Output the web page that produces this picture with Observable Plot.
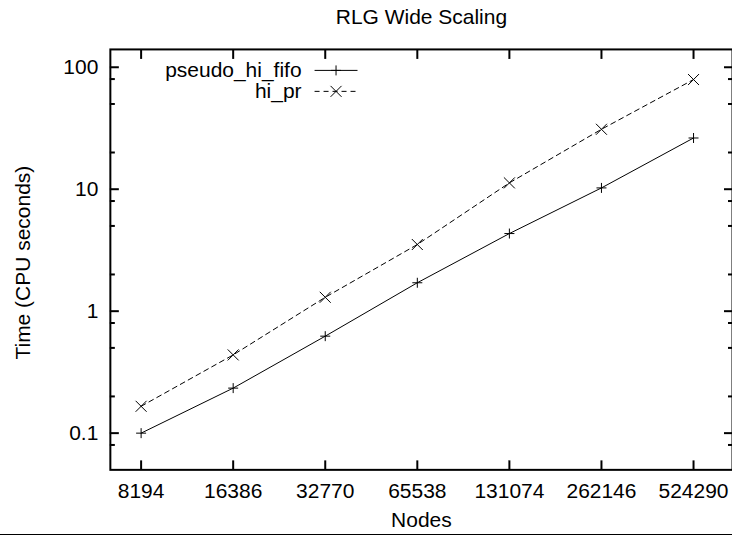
<!DOCTYPE html>
<html><head><meta charset="utf-8">
<script src="https://cdn.jsdelivr.net/npm/d3@7"></script>
<script src="https://cdn.jsdelivr.net/npm/@observablehq/plot@0.6"></script>
<style>
html,body{margin:0;padding:0;background:#fff;overflow:hidden;width:732px;height:536px;}
#chart{position:relative;width:732px;height:536px;overflow:hidden;}
#chart svg{position:absolute;left:0;top:0;overflow:hidden;}
#rule{position:absolute;left:0;top:534px;width:732px;height:1px;background:#000;}
</style></head><body><div id="chart"><div id="rule"></div></div>
<script>
const nodes = [8194, 16386, 32770, 65538, 131074, 262146, 524290];
const pseudoHiFifo = [0.1, 0.234, 0.624, 1.71, 4.33, 10.25, 26.3];
const hiPr = [0.166, 0.438, 1.30, 3.52, 11.27, 31.0, 79.3];
const seriesNames = ["pseudo_hi_fifo", "hi_pr"];
const yMajor = [0.1, 1, 10, 100];
const yMinor = [0.08, 0.2, 0.5, 0.8, 2, 5, 8, 20, 50, 80];
const title = "RLG Wide Scaling";
const xLabel = "Nodes";
const yLabel = "Time (CPU seconds)";

const fifoRows = nodes.map((n, i) => ({n, t: pseudoHiFifo[i]}));
const prRows = nodes.map((n, i) => ({n, t: hiPr[i]}));

const plusSym = {draw(ctx, size) {const r = Math.sqrt(size / Math.PI); ctx.moveTo(-r, 0); ctx.lineTo(r, 0); ctx.moveTo(0, -r); ctx.lineTo(0, r);}};
const timesSym = {draw(ctx, size) {const r = Math.sqrt(size / Math.PI); ctx.moveTo(-r, -r); ctx.lineTo(r, r); ctx.moveTo(-r, r); ctx.lineTo(r, -r);}};

const FONT = "Liberation Sans, Arial, Helvetica, sans-serif";
const FS = 21;
const noText = () => "";

const plot = Plot.plot({
  width: 733, height: 536,
  marginLeft: 110, marginRight: 0, marginTop: 49, marginBottom: 66,
  style: {fontFamily: FONT, fontSize: FS + "px", color: "#000", background: "transparent", overflow: "hidden"},
  x: {type: "log", base: 2, domain: [6500, 703000]},
  y: {type: "log", domain: [0.05, 140]},
  marks: [
    Plot.frame({stroke: "#000", strokeWidth: 2}),
    // x ticks (inward) bottom & top
    Plot.axisX(nodes, {anchor: "bottom", tickSize: 9, dy: -9, strokeWidth: 2, tickFormat: noText, label: null}),
    Plot.axisX(nodes, {anchor: "top", tickSize: 9, dy: 9, strokeWidth: 2, tickFormat: noText, label: null}),
    // y major ticks
    Plot.axisY(yMajor, {anchor: "left", tickSize: 9, dx: 9, strokeWidth: 2, tickFormat: noText, label: null}),
    Plot.axisY(yMajor, {anchor: "right", tickSize: 9, dx: -9, strokeWidth: 2, tickFormat: noText, label: null}),
    // y minor ticks
    Plot.axisY(yMinor, {anchor: "left", tickSize: 5, dx: 5, strokeWidth: 2, tickFormat: noText, label: null}),
    Plot.axisY(yMinor, {anchor: "right", tickSize: 5, dx: -5, strokeWidth: 2, tickFormat: noText, label: null}),
    // tick labels
    Plot.axisX(nodes, {anchor: "bottom", tickSize: 0, tickPadding: 13, tickFormat: d3.format("d"), label: null}),
    Plot.axisY(yMajor, {anchor: "left", tickSize: 0, tickPadding: 12, tickFormat: d => String(d), label: null}),
    // data
    Plot.line(fifoRows, {x: "n", y: "t", stroke: "#000", strokeWidth: 1}),
    Plot.line(prRows, {x: "n", y: "t", stroke: "#000", strokeWidth: 1, strokeDasharray: "5,4"}),
    Plot.dot(fifoRows, {x: "n", y: "t", symbol: plusSym, r: 5, stroke: "#000", strokeWidth: 1, fill: "none"}),
    Plot.dot(prRows, {x: "n", y: "t", symbol: timesSym, r: 5.5, stroke: "#000", strokeWidth: 1, fill: "none"}),
    // titles
    Plot.text([title], {frameAnchor: "top", lineAnchor: "middle", textAnchor: "middle", dx: 0, dy: -32, fontSize: FS, fill: "#000"}),
    Plot.text([xLabel], {frameAnchor: "bottom", lineAnchor: "middle", textAnchor: "middle", dx: 0, dy: 50, fontSize: FS, fill: "#000"}),
    Plot.text([yLabel], {frameAnchor: "left", lineAnchor: "middle", textAnchor: "middle", rotate: -90, dx: -87, dy: 3, fontSize: FS, fill: "#000"})
  ]
});
document.getElementById("chart").appendChild(plot);

// legend (key) inside the frame, as in gnuplot
const svg = d3.select(plot);
const key = svg.append("g").attr("font-family", FONT).attr("font-size", FS).attr("fill", "#000");
const keyStyles = [
  {dash: null, sym: plusSym, r: 5},
  {dash: "5,4", sym: timesSym, r: 5.5}
];
seriesNames.forEach((name, i) => {
  const cy = 70.5 + i * 21;
  key.append("text").attr("x", 302).attr("y", cy).attr("dy", "0.32em").attr("text-anchor", "end").text(name);
  const ln = key.append("line").attr("x1", 315).attr("x2", 358).attr("y1", cy).attr("y2", cy)
    .attr("stroke", "#000").attr("stroke-width", 1);
  if (keyStyles[i].dash) ln.attr("stroke-dasharray", keyStyles[i].dash);
  key.append("path").attr("transform", `translate(336.5,${cy})`)
    .attr("d", d3.symbol(keyStyles[i].sym, Math.PI * keyStyles[i].r ** 2)())
    .attr("stroke", "#000").attr("fill", "none").attr("stroke-width", 1);
});
</script>
</body></html>
